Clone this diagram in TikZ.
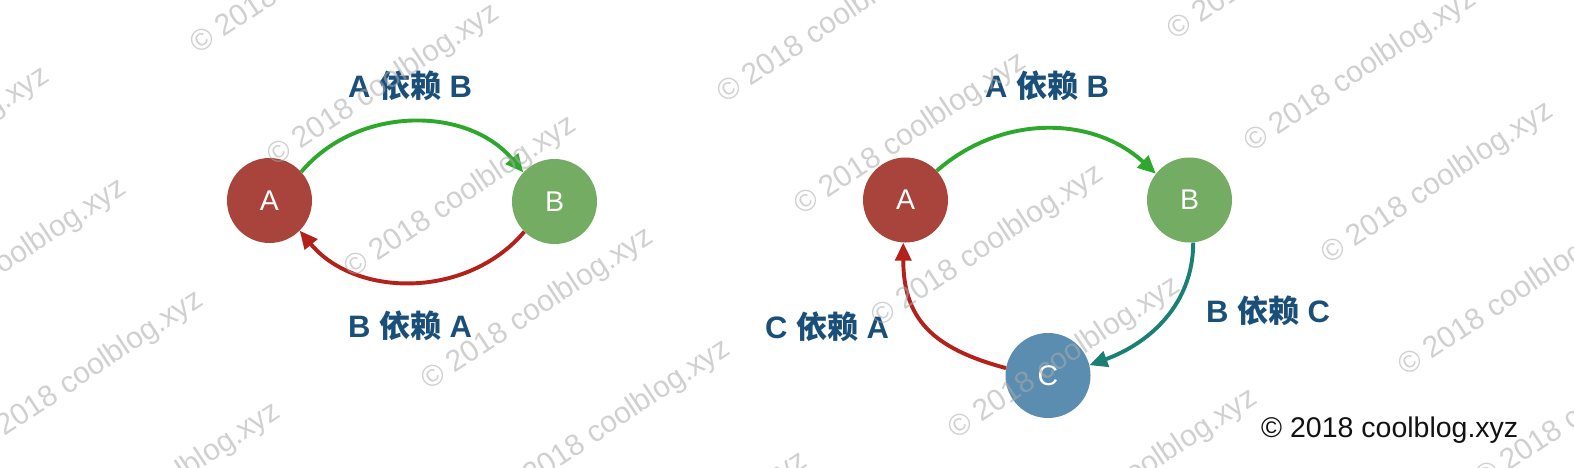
\documentclass[tikz,border=0pt]{standalone}
\usepackage{fontspec}
\setmainfont{Liberation Sans}
\newfontfamily\cjk{Noto Sans CJK SC}
\usetikzlibrary{arrows.meta}
\definecolor{nodeA}{HTML}{A9443C}
\definecolor{nodeB}{HTML}{74AC63}
\definecolor{nodeC}{HTML}{5A8DB0}
\definecolor{arrG}{HTML}{2DA82D}
\definecolor{arrR}{HTML}{B2221A}
\definecolor{arrT}{HTML}{1A8073}
\definecolor{lblblue}{HTML}{1A4F7A}
\definecolor{wmgray}{HTML}{ABABAB}
\begin{document}
\begin{tikzpicture}[x=1pt,y=1pt,
  circ/.style={circle, minimum size=85pt, inner sep=0pt, text=white,
    font=\fontsize{28.5}{28.5}\selectfont},
  lbl/.style={text=lblblue, inner sep=0pt,
    font=\fontsize{31}{31}\selectfont\bfseries},
  dep/.style={line width=3.9pt, -{Triangle[length=18pt,width=16pt]}},
  wm/.style={text=wmgray, text opacity=0.55, inner sep=0pt, anchor=west,
    rotate=33.5, font=\fontsize{30}{30}\selectfont}]
\useasboundingbox (0,0) rectangle (1574,-468);
\fill[white] (0,0) rectangle (1574,-468);

% left diagram
\node[circ, fill=nodeA] (A1) at (269.5,-200.5) {A};
\node[circ, fill=nodeB] (B1) at (554.5,-201.5) {B};
\draw[dep, arrG] (A1.42) to[bend left=50] (B1.137);
\draw[dep, arrR] (B1.225) to[bend left=50] (A1.315);
\node[lbl] (l1) at (410,-86) {A {\cjk 依赖} B};
\node[lbl] (l2) at (410,-326) {B {\cjk 依赖} A};

% right diagram
\node[circ, fill=nodeA] (A2) at (905.5,-200) {A};
\node[circ, fill=nodeB] (B2) at (1189.5,-200) {B};
\node[circ, fill=nodeC] (C2) at (1048,-375.5) {C};
\draw[dep, arrG] (A2.43) to[bend left=42] (B2.142);
\draw[dep, arrT] (B2.-85) to[out=-90, in=20] (C2.14);
\draw[dep, arrR] (C2.170) to[out=165, in=-90, looseness=1.2] (A2.267);
\node[lbl] (l3) at (1047,-86) {A {\cjk 依赖} B};
\node[lbl] (l4) at (1268,-311) {B {\cjk 依赖} C};
\node[lbl] (l5) at (827,-327) {C {\cjk 依赖} A};

% copyright
\node[anchor=base west, inner sep=0pt, text=black!93,
  font=\fontsize{28.5}{28.5}\selectfont] (cp) at (1261,-437) {© 2018 coolblog.xyz};

% watermarks
\begin{scope}
\clip (0,0) rectangle (1574,-468);
\foreach \i in {0,...,3} {
  \foreach \k in {-1,...,5} {
    \node[wm] (wm\i\k) at ({-247+450*\i+77*\k-9.3},{-(105-63*\i+112*\k)-6.1}) {© 2018 coolblog.xyz};
  }
}
\end{scope}
\end{tikzpicture}
\end{document}
